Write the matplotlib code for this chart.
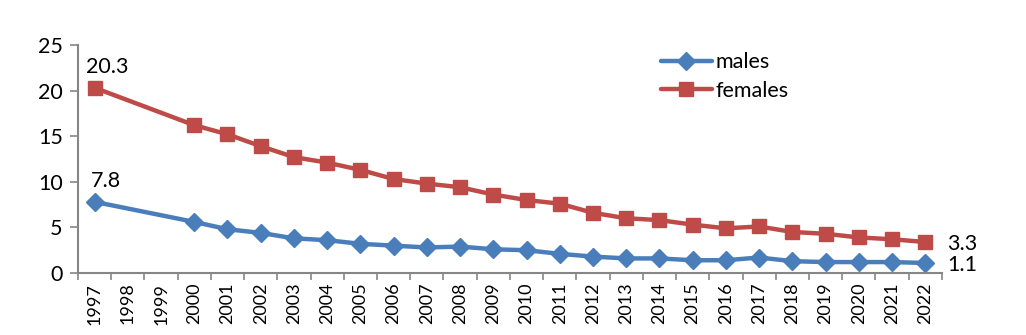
import numpy as np
import matplotlib.pyplot as plt

plt.rcParams['font.family'] = ['Lato', 'DejaVu Sans']

# Data (no values for 1998 and 1999)
years = [str(y) for y in range(1997, 2023)]
males = [7.8, None, None, 5.6, 4.8, 4.4, 3.8, 3.6, 3.2, 3.0, 2.8, 2.9, 2.6, 2.5,
         2.1, 1.8, 1.6, 1.6, 1.4, 1.4, 1.7, 1.3, 1.2, 1.2, 1.2, 1.1]
females = [20.3, None, None, 16.2, 15.2, 13.9, 12.7, 12.1, 11.3, 10.3, 9.8, 9.4,
           8.6, 8.0, 7.6, 6.6, 6.0, 5.8, 5.3, 4.9, 5.1, 4.5, 4.3, 3.9, 3.7, 3.4]
female_end_label = '3.3'

blue = '#4A7EBB'
red = '#BE4B48'
axis_gray = '#868686'

fig = plt.figure(figsize=(10.26, 3.35), dpi=100)
ax = fig.add_axes([0.076, 0.185, 0.842, 0.681])

x = np.arange(len(years))


def series(vals):
    idx = [i for i, v in enumerate(vals) if v is not None]
    return np.array(idx), np.array([vals[i] for i in idx])


mx, my = series(males)
fx, fy = series(females)

ax.plot(mx, my, color=blue, lw=3.2, marker='D', markersize=9, label='males',
        solid_capstyle='round')
ax.plot(fx, fy, color=red, lw=3.2, marker='s', markersize=10, label='females',
        solid_capstyle='round')

# value labels
fs = 15.5
ax.annotate(f'{females[0]}', (fx[0], fy[0]), xytext=(-6, 11), textcoords='offset points',
            fontsize=fs)
ax.annotate(f'{males[0]}', (mx[0], my[0]), xytext=(-3, 11), textcoords='offset points',
            fontsize=fs)
ax.annotate(female_end_label, (fx[-1], fy[-1]), xytext=(16, -6), textcoords='offset points',
            fontsize=fs)
ax.annotate(f'{males[-1]}', (mx[-1], my[-1]), xytext=(16, -6), textcoords='offset points',
            fontsize=fs)

ax.set_xlim(-0.5, len(years) - 0.5)
ax.set_ylim(0, 25)
ax.set_yticks(np.arange(0, 26, 5))
ax.tick_params(axis='y', labelsize=fs, color=axis_gray, length=6, width=1.2, pad=5)

ax.set_xticks(x)
ax.set_xticklabels(years, rotation=90, fontsize=13)
ax.set_xticks(np.arange(-0.5, len(years), 1), minor=True)
ax.tick_params(axis='x', which='major', length=0, pad=7)
ax.tick_params(axis='x', which='minor', length=5, width=1.2, color=axis_gray)

for s in ['top', 'right']:
    ax.spines[s].set_visible(False)
for s in ['left', 'bottom']:
    ax.spines[s].set_color(axis_gray)
    ax.spines[s].set_linewidth(1.5)

ax.legend(loc='upper left', bbox_to_anchor=(0.652, 1.053), frameon=False, fontsize=fs,
          handlelength=2.4, handletextpad=0.15, labelspacing=0.4)

fig.savefig('out.png', dpi=100)
